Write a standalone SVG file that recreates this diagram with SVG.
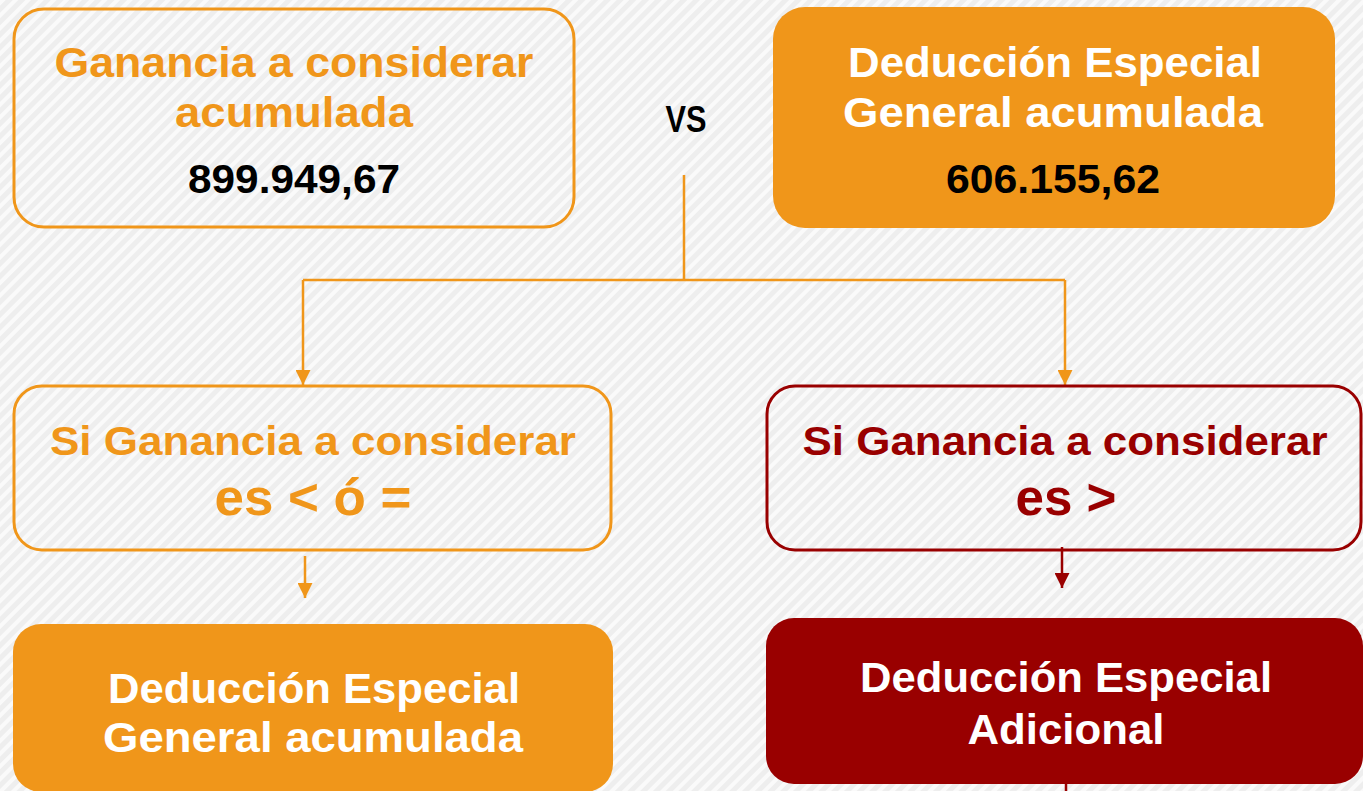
<svg xmlns="http://www.w3.org/2000/svg" width="1363" height="791" viewBox="0 0 1363 791">
<defs>
<pattern id="bg" width="9" height="9" patternUnits="userSpaceOnUse" patternTransform="rotate(45)">
<rect width="9" height="9" fill="#eeeeee"/>
<rect width="4" height="9" fill="#fafafa"/>
</pattern>
<marker id="ao" viewBox="0 0 10 10" refX="10" refY="5" markerWidth="6" markerHeight="6" markerUnits="strokeWidth" orient="auto">
<path d="M0,0 L10,5 L0,10 z" fill="#F0961A"/>
</marker>
<marker id="ar" viewBox="0 0 10 10" refX="10" refY="5" markerWidth="6" markerHeight="6" markerUnits="strokeWidth" orient="auto">
<path d="M0,0 L10,5 L0,10 z" fill="#990000"/>
</marker>
</defs>
<style>
text{font-family:"Liberation Sans",Arial,sans-serif;font-weight:bold;text-anchor:middle}
.o{fill:#F0961A}
.r{fill:#990000}
.w{fill:#ffffff}
.k{fill:#000000}
.lo{stroke:#F0961A;stroke-width:2.5;fill:none}
.lr{stroke:#990000;stroke-width:2.5;fill:none}
</style>
<rect width="1363" height="791" fill="url(#bg)"/>

<g id="connectors">
<path class="lo" d="M684,175 V280 M303,280 H1065"/>
<path class="lo" d="M303,280 V385" marker-end="url(#ao)"/>
<path class="lo" d="M1065,280 V385" marker-end="url(#ao)"/>
<path class="lo" d="M305,556 V598" marker-end="url(#ao)"/>
<path class="lr" d="M1062,547 V588" marker-end="url(#ar)"/>
<path class="lr" d="M1066,784 V791"/>
</g>

<g id="vs">
<text class="k" x="686" y="132" font-size="37" textLength="41" lengthAdjust="spacingAndGlyphs">VS</text>
</g>

<g id="n1">
<rect x="14" y="9" width="560" height="218" rx="30" fill="none" stroke="#F0961A" stroke-width="3"/>
<text class="o" x="294" y="77" font-size="42" textLength="479" lengthAdjust="spacingAndGlyphs">Ganancia a considerar</text>
<text class="o" x="294" y="127" font-size="42" textLength="238" lengthAdjust="spacingAndGlyphs">acumulada</text>
<text class="k" x="294" y="193" font-size="41" textLength="212" lengthAdjust="spacingAndGlyphs">899.949,67</text>
</g>

<g id="n2">
<rect x="773" y="7" width="562" height="221" rx="32" fill="#F0961A"/>
<text class="w" x="1055" y="77" font-size="42" textLength="414" lengthAdjust="spacingAndGlyphs">Deducción Especial</text>
<text class="w" x="1053" y="127" font-size="42" textLength="420" lengthAdjust="spacingAndGlyphs">General acumulada</text>
<text class="k" x="1053" y="193" font-size="41" textLength="214" lengthAdjust="spacingAndGlyphs">606.155,62</text>
</g>

<g id="n3">
<rect x="14" y="386" width="597" height="164" rx="28" fill="none" stroke="#F0961A" stroke-width="3"/>
<text class="o" x="313" y="455" font-size="40" textLength="526" lengthAdjust="spacingAndGlyphs">Si Ganancia a considerar</text>
<text class="o" x="313" y="515" font-size="52" textLength="197" lengthAdjust="spacingAndGlyphs">es &lt; ó =</text>
</g>

<g id="n4">
<rect x="13" y="624" width="600" height="168" rx="28" fill="#F0961A"/>
<text class="w" x="314" y="703" font-size="42" textLength="412" lengthAdjust="spacingAndGlyphs">Deducción Especial</text>
<text class="w" x="313" y="752" font-size="42" textLength="420" lengthAdjust="spacingAndGlyphs">General acumulada</text>
</g>

<g id="n5">
<rect x="767" y="386" width="594" height="164" rx="28" fill="none" stroke="#990000" stroke-width="3"/>
<text class="r" x="1065" y="455" font-size="40" textLength="525" lengthAdjust="spacingAndGlyphs">Si Ganancia a considerar</text>
<text class="r" x="1066" y="515" font-size="52" textLength="101" lengthAdjust="spacingAndGlyphs">es &gt;</text>
</g>

<g id="n6">
<rect x="766" y="618" width="597" height="166" rx="28" fill="#990000"/>
<text class="w" x="1066" y="692" font-size="42" textLength="412" lengthAdjust="spacingAndGlyphs">Deducción Especial</text>
<text class="w" x="1066" y="744" font-size="42" textLength="197" lengthAdjust="spacingAndGlyphs">Adicional</text>
</g>
</svg>
